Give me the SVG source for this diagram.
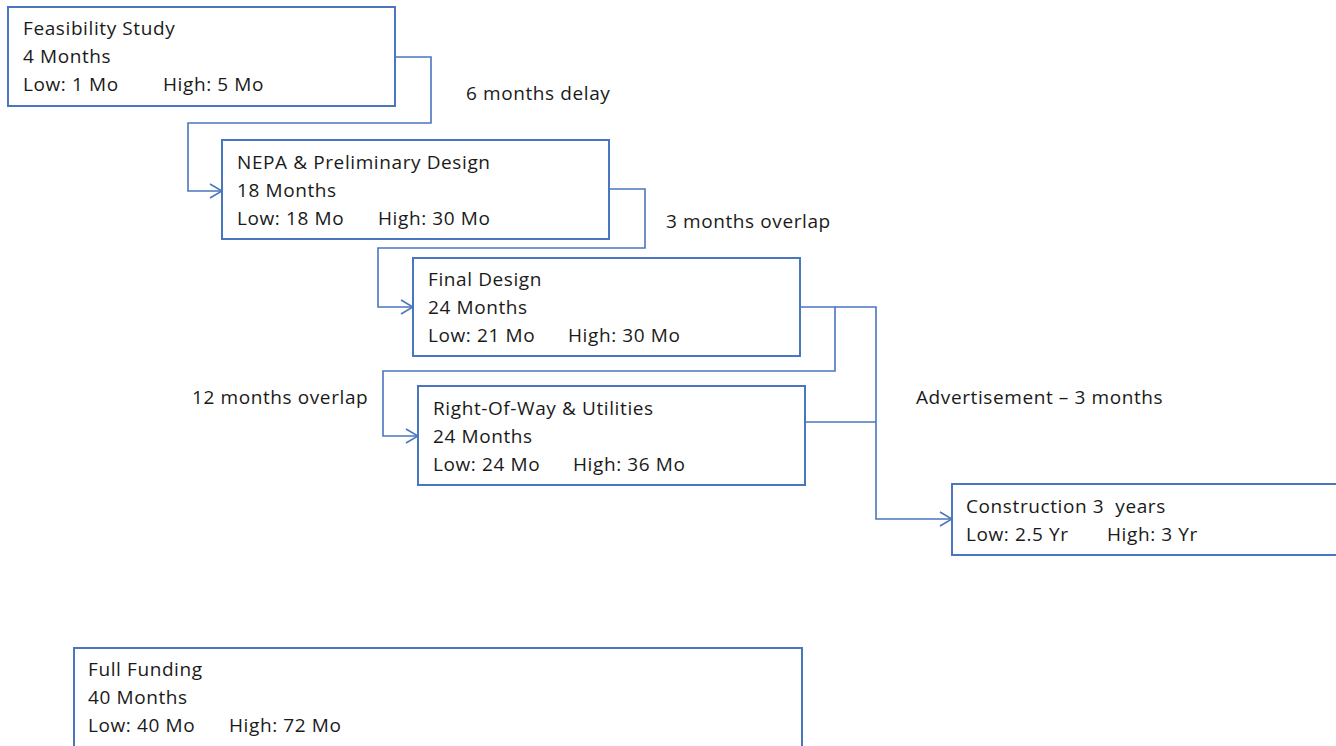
<svg xmlns="http://www.w3.org/2000/svg" width="1336" height="746" viewBox="0 0 1336 746">
<defs>
<style>
.box{fill:#fff;stroke:#4a76c0;stroke-width:2}
.con{fill:none;stroke:#4a76c0;stroke-width:1.6}
text{font-family:"Open Sans","Liberation Sans",sans-serif;font-size:19px;letter-spacing:0.6px;fill:#1a1a1a;white-space:pre}
</style>
<marker id="arr" viewBox="0 0 14 16" refX="13" refY="8" markerWidth="14" markerHeight="16" markerUnits="userSpaceOnUse" orient="auto">
<path d="M1,1 L13,8 L1,15" fill="none" stroke="#4a76c0" stroke-width="1.6"/>
</marker>
</defs>
<rect width="1336" height="746" fill="#fff"/>
<g id="connectors">
<path class="con" d="M395,57 H431 V123 H188 V191 H222" marker-end="url(#arr)"/>
<path class="con" d="M609,189 H645 V248 H378 V307 H413" marker-end="url(#arr)"/>
<path class="con" d="M800,307 H835 V371 H383 V436 H418" marker-end="url(#arr)"/>
<path class="con" d="M835,307 H876 V519 H952" marker-end="url(#arr)"/>
<path class="con" d="M805,422 H876"/>
</g>
<g id="feasibility">
<rect class="box" x="8" y="7" width="387" height="99"/>
<text x="23" y="35">Feasibility Study</text>
<text x="23" y="63">4 Months</text>
<text x="23" y="91">Low: 1 Mo</text>
<text x="163" y="91">High: 5 Mo</text>
</g>
<g id="label-delay"><text x="466" y="100">6 months delay</text></g>
<g id="nepa">
<rect class="box" x="222" y="140" width="387" height="99"/>
<text x="237" y="169">NEPA &amp; Preliminary Design</text>
<text x="237" y="197">18 Months</text>
<text x="237" y="225">Low: 18 Mo</text>
<text x="378" y="225">High: 30 Mo</text>
</g>
<g id="label-overlap3"><text x="666" y="228">3 months overlap</text></g>
<g id="final-design">
<rect class="box" x="413" y="258" width="387" height="98"/>
<text x="428" y="286">Final Design</text>
<text x="428" y="314">24 Months</text>
<text x="428" y="342">Low: 21 Mo</text>
<text x="568" y="342">High: 30 Mo</text>
</g>
<g id="label-overlap12"><text x="192" y="404">12 months overlap</text></g>
<g id="row">
<rect class="box" x="418" y="386" width="387" height="99"/>
<text x="433" y="415">Right-Of-Way &amp; Utilities</text>
<text x="433" y="443">24 Months</text>
<text x="433" y="471">Low: 24 Mo</text>
<text x="573" y="471">High: 36 Mo</text>
</g>
<g id="label-advert"><text x="916" y="404">Advertisement – 3 months</text></g>
<g id="construction">
<rect class="box" x="952" y="484" width="400" height="71"/>
<text x="966" y="513">Construction 3  years</text>
<text x="966" y="541">Low: 2.5 Yr</text>
<text x="1107" y="541">High: 3 Yr</text>
</g>
<g id="full-funding">
<rect class="box" x="74" y="648" width="728" height="110"/>
<text x="88" y="676">Full Funding</text>
<text x="88" y="704">40 Months</text>
<text x="88" y="732">Low: 40 Mo</text>
<text x="229" y="732">High: 72 Mo</text>
</g>
</svg>
